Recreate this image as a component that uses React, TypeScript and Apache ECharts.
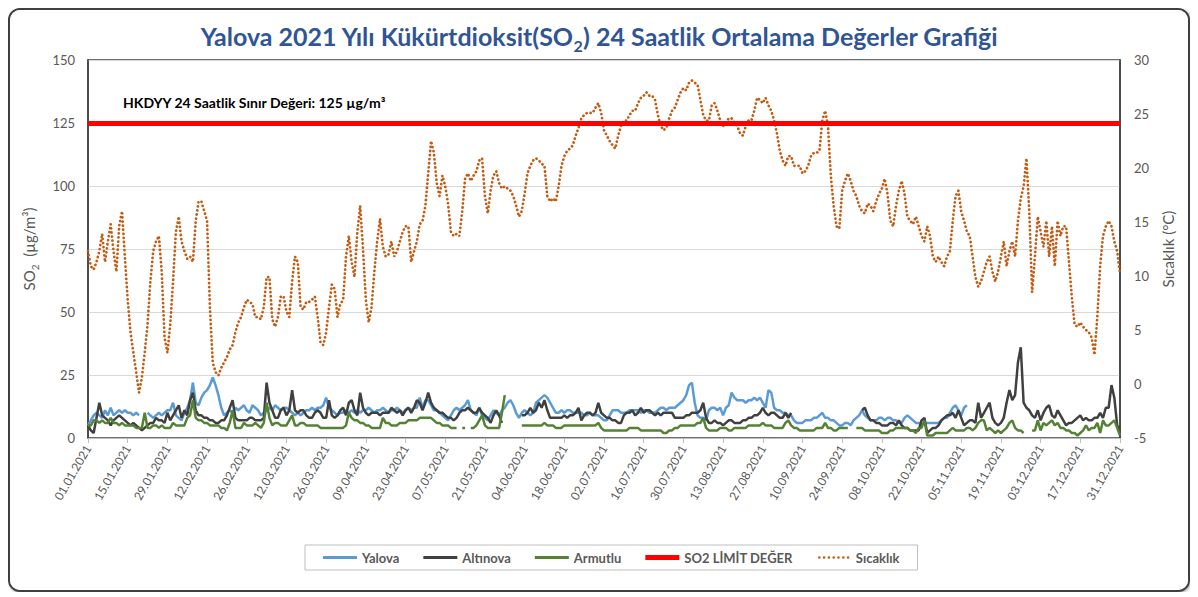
import React, { useEffect, useRef } from "react";
import * as echarts from "echarts";

// ---- categories: every day of 2021 ----
const YEAR = 2021;
const DAY_COUNT = 365;
const dates: string[] = [];
for (let i = 0; i < DAY_COUNT; i++) {
  const d = new Date(Date.UTC(YEAR, 0, 1 + i));
  const dd = String(d.getUTCDate()).padStart(2, "0");
  const mm = String(d.getUTCMonth() + 1).padStart(2, "0");
  dates.push(`${dd}.${mm}.${YEAR}`);
}

const LIMIT = 125;
const LIMIT_TEXT = "HKDYY 24 Saatlik Sınır Değeri: 125 µg/m³";
const seriesNames = ["Yalova", "Altınova", "Armutlu", "SO2 LİMİT DEĞER", "Sıcaklık"];

// SO2 daily averages (µg/m³)
const yalova: (number | null)[] = [
  5,7,9,10,9,8,11,9,12,9,10,11,10,11,10,10,9,10,9,null,
  null,10,9,8,9,10,9,10,11,11,14,9,8,7,10,12,15,22,14,13,
  16,18,19,21,24,21,17,12,9,10,11,10,12,11,12,13,11,10,13,12,
  11,9,10,11,12,11,13,12,11,12,12,11,10,9,10,9,10,11,11,12,
  11,12,12,13,16,12,11,10,9,10,10,11,10,11,10,11,10,11,11,12,
  11,10,11,11,12,11,10,11,11,12,11,10,11,12,11,12,12,16,12,15,
  15,13,11,11,10,9,8,7,9,11,12,11,12,13,15,11,10,9,12,9,
  8,7,9,11,10,9,11,12,14,15,13,10,8,10,11,10,9,10,14,15,
  16,17,16,14,12,10,10,11,10,11,11,10,10,10,10,9,9,10,9,9,
  9,8,7,7,9,11,11,11,10,10,10,11,11,11,11,10,11,11,10,10,
  10,11,12,12,11,12,12,12,13,14,15,17,21,22,14,9,8,8,7,11,
  12,12,11,12,9,12,13,18,16,15,15,15,14,15,15,16,15,16,14,12,
  19,18,12,11,11,10,10,9,9,7,6,6,6,7,7,7,8,8,9,10,
  8,8,7,7,6,5,5,6,6,5,7,8,9,11,9,8,7,7,7,8,
  8,7,8,8,7,7,6,6,8,9,8,7,6,6,5,6,6,6,6,6,
  6,7,8,8,10,12,13,11,9,12,13,null,null,null,null,null,null,null,null,null,
  null,null,null,null,null,null,null,null,null,null,null,null,null,null,null,null,null,null,null,null,
  null,null,null,null,null,null,null,null,null,null,null,null,null,null,null,null,null,null,null,null,
  null,null,null,null,null,
];

const altinova: (number | null)[] = [
  5,3,2,8,14,9,8,7,5,7,8,9,8,7,6,5,6,5,4,3,
  4,5,6,6,8,7,7,6,10,7,9,11,13,8,11,9,15,18,11,9,
  9,8,8,7,7,6,6,7,7,9,12,15,8,7,7,7,7,8,8,7,
  7,7,8,22,14,11,8,8,11,12,9,11,19,11,10,11,11,9,8,8,
  10,11,10,8,8,15,9,8,9,11,12,9,14,15,11,9,18,12,10,9,
  10,10,10,9,10,10,10,12,11,10,11,9,11,12,10,12,15,14,11,14,
  18,14,12,11,10,10,9,8,8,7,8,10,11,11,12,11,10,10,12,10,
  9,8,6,9,11,9,6,null,null,null,null,null,null,9,9,10,12,10,11,14,
  12,15,11,8,8,8,8,8,9,8,9,9,10,12,7,9,10,10,9,10,
  14,10,9,8,8,7,7,6,6,9,10,10,11,9,10,12,10,11,11,10,
  9,10,9,10,10,10,10,8,8,8,8,9,9,10,10,10,11,14,8,6,
  6,7,6,6,5,6,7,7,6,6,6,7,7,8,8,9,9,10,12,10,
  9,10,10,9,8,8,10,8,10,null,null,null,null,null,null,null,null,null,null,null,
  null,null,null,null,null,null,null,null,null,null,null,null,null,11,12,9,7,7,6,6,
  5,5,5,6,6,5,7,5,4,4,3,3,3,3,7,8,2,3,4,4,
  5,7,8,9,9,10,8,11,8,5,6,7,7,6,14,8,10,12,14,8,
  6,5,6,8,14,19,15,17,30,36,14,12,11,9,8,11,7,10,12,13,
  9,8,11,9,7,5,6,6,7,8,9,7,8,7,7,8,8,10,8,12,
  12,21,16,5,3,
];

const armutlu: (number | null)[] = [
  5,5,7,7,6,7,6,6,8,6,6,5,6,5,5,5,5,4,4,4,
  10,4,4,5,5,4,5,4,4,4,6,5,5,5,5,8,9,15,8,7,
  7,6,6,5,5,5,5,4,4,3,6,11,4,4,4,6,5,5,5,6,
  5,4,6,14,8,5,6,6,5,5,5,7,9,5,5,6,6,5,5,5,
  5,5,4,4,4,4,4,4,4,4,4,5,10,8,7,7,6,6,5,5,
  4,4,4,4,8,6,6,5,5,5,6,6,6,7,7,7,7,8,8,8,
  8,8,7,6,6,5,5,5,4,4,4,null,4,4,null,4,4,5,7,9,
  5,4,4,4,4,4,10,17,null,null,null,null,null,5,5,5,5,5,5,5,
  5,6,5,5,5,4,4,4,5,5,5,5,5,5,5,5,5,5,5,5,
  6,4,3,3,3,3,3,3,3,3,3,4,4,4,4,3,3,3,3,3,
  3,3,3,2,2,3,3,4,4,5,5,5,5,5,5,6,6,8,4,3,
  3,3,3,4,4,4,3,3,4,4,4,4,4,5,5,5,5,5,6,5,
  5,5,4,4,4,4,6,7,5,4,4,3,3,3,3,3,3,4,4,4,
  6,4,4,3,3,4,4,4,4,null,null,4,4,4,3,3,3,3,3,3,
  2,2,2,3,3,4,4,4,4,4,3,3,2,4,4,7,1,1,1,2,
  2,2,2,2,3,4,3,3,3,3,4,4,3,4,6,7,7,3,4,3,
  2,3,2,3,4,6,7,4,3,3,2,null,null,3,3,7,3,6,5,6,
  7,5,6,4,4,3,3,2,2,1,2,3,5,3,4,4,6,2,7,5,
  5,6,7,4,1,
];

// Daily temperature (°C)
const sicaklik: number[] = [
  12.3,10.9,10.6,11.3,12.3,13.9,11.3,13.2,14.8,12.3,10.4,14.6,16.0,11.8,7.8,4.8,2.9,1.1,-0.8,0.6,
  2.9,5.5,9.5,12.3,13.2,13.7,10.4,4.3,2.9,5.5,9.5,14.1,15.5,13.2,12.3,11.6,11.8,11.3,15.1,16.9,
  16.9,16.0,15.1,7.1,2.0,1.1,0.8,1.5,2.0,2.5,3.2,3.6,4.8,5.7,6.2,7.1,7.8,7.6,7.4,6.2,
  6.2,6.0,7.1,9.9,9.9,6.0,5.3,6.2,8.1,8.1,6.7,6.2,9.5,11.8,11.3,7.1,6.9,7.6,7.6,7.8,
  8.1,6.2,3.9,3.6,4.8,7.1,9.2,8.8,6.2,7.4,7.8,11.8,13.7,11.3,9.9,14.1,16.5,12.5,7.8,5.7,
  7.1,10.4,13.2,15.3,12.7,11.8,12.0,13.2,11.8,12.3,13.2,14.1,14.6,14.6,11.3,12.3,13.2,14.8,15.1,16.5,
  19.5,22.5,21.4,18.6,17.4,19.3,18.3,16.7,14.1,13.7,13.9,13.7,16.0,19.0,19.5,18.8,19.3,19.7,20.7,20.9,
  17.4,15.8,17.9,19.3,19.7,18.6,18.1,18.3,18.1,17.9,17.4,16.5,15.5,16.0,17.6,19.5,20.2,20.7,20.9,20.7,
  20.4,20.2,17.4,16.9,17.2,16.9,18.3,20.2,21.1,21.6,21.8,22.1,23.0,23.7,24.6,24.9,25.1,25.1,25.1,25.6,
  26.0,25.1,23.5,23.0,22.5,22.1,21.8,23.0,23.9,24.4,24.4,24.9,25.3,25.3,26.0,26.5,26.7,27.0,26.7,26.7,
  26.3,24.9,23.9,23.5,23.7,24.6,25.3,25.6,26.3,27.0,27.4,27.2,27.9,28.1,27.9,27.7,26.3,24.9,24.4,24.4,
  25.8,26.0,25.3,24.4,23.9,24.2,24.6,24.6,24.2,23.9,23.2,23.0,23.9,24.4,24.4,25.3,26.5,26.3,26.0,26.5,
  25.8,25.3,24.4,23.2,21.6,20.7,20.2,21.1,21.1,20.2,20.2,20.2,19.5,19.7,20.2,21.1,21.4,21.4,21.6,24.4,
  25.3,23.9,19.3,16.5,14.6,14.4,17.9,18.8,19.5,18.8,17.9,17.4,16.5,16.0,15.8,16.7,16.5,16.0,16.9,17.6,
  18.1,19.0,17.6,15.1,14.6,16.5,17.9,18.8,17.6,15.5,15.1,14.8,15.5,14.6,13.7,13.2,14.6,13.7,11.8,11.3,
  11.8,11.3,10.9,11.8,12.3,15.1,17.4,17.9,16.0,15.1,14.1,13.7,11.8,9.9,9.0,9.5,10.4,11.3,11.8,10.4,
  9.5,10.4,11.8,13.2,10.9,12.3,13.2,11.8,15.1,17.2,18.3,20.9,16.0,8.5,11.8,15.5,14.1,12.7,15.1,11.8,
  14.6,10.9,15.1,13.7,14.6,14.6,11.3,8.1,5.5,5.3,5.7,5.3,5.0,4.8,4.3,2.7,6.2,10.9,13.7,14.6,
  15.1,14.6,13.2,12.3,10.2,
];

const FONT = "Lato, 'Open Sans', sans-serif";
const GRAY = "#595959";

// legend icons (bounding box 34x12 kept by the invisible corner moves)
const LINE_ICON = "path://M0,0M34,12M0,4.6H34V7.4H0Z";
const THICK_ICON = "path://M0,0M34,12M0,3.5H34V8.5H0Z";
const DOT_ICON =
  "path://M0,0M34,12" +
  [2.5, 7.3, 12.1, 16.9, 21.7, 26.5, 31.3]
    .map((cx) => `M${cx - 1.3},6a1.3,1.3 0 1,0 2.6,0a1.3,1.3 0 1,0 -2.6,0Z`)
    .join("");
const legendIcons = [LINE_ICON, LINE_ICON, LINE_ICON, THICK_ICON, DOT_ICON];

export default function App() {
  const ref = useRef<HTMLDivElement>(null);

  useEffect(() => {
    if (!ref.current) return;
    const chart = echarts.init(ref.current, undefined, { renderer: "svg" });
    chart.setOption({
      animation: false,
      backgroundColor: "#ffffff",
      textStyle: { fontFamily: FONT },
      title: {
        text: "{a|Yalova 2021 Yılı Kükürtdioksit(SO}{s|2}{a|) 24 Saatlik Ortalama Değerler Grafiği}",
        left: "center",
        top: 4,
        textStyle: {
          rich: {
            a: { fontSize: 25, fontWeight: "bold", color: "#2F5597", fontFamily: FONT, lineHeight: 34, verticalAlign: "middle" },
            s: { fontSize: 16, fontWeight: "bold", color: "#2F5597", fontFamily: FONT, lineHeight: 34, verticalAlign: "bottom" },
          },
        },
      },
      legend: {
        data: seriesNames.map((name, i) => ({ name, icon: legendIcons[i] })),
        left: 295,
        top: 535,
        padding: [6, 18, 6, 18],
        itemGap: 24,
        itemWidth: 34,
        itemHeight: 12,
        borderColor: "#bfbfbf",
        borderWidth: 1,
        backgroundColor: "#ffffff",
        textStyle: { color: GRAY, fontSize: 13, fontWeight: "bold", fontFamily: FONT },
      },
      grid: { left: 78, top: 50, width: 1032, height: 378, show: true, borderColor: "#404040", borderWidth: 1.5 },
      xAxis: {
        type: "category",
        data: dates,
        boundaryGap: false,
        axisLine: { lineStyle: { color: "#bfbfbf" } },
        axisTick: { show: true, interval: 13, length: 5, lineStyle: { color: "#bfbfbf" } },
        axisLabel: { interval: 13, rotate: 60, fontSize: 12, color: GRAY, margin: 8, fontFamily: FONT },
        splitLine: { show: false },
      },
      yAxis: [
        {
          type: "value",
          min: 0,
          max: 150,
          interval: 25,
          name: "{a|SO}{s|2}{a|  (µg/m³)}",
          nameLocation: "middle",
          nameGap: 48,
          nameRotate: 90,
          nameTextStyle: {
            rich: {
              a: { fontSize: 15, color: GRAY, fontFamily: FONT, lineHeight: 22, verticalAlign: "middle" },
              s: { fontSize: 10, color: GRAY, fontFamily: FONT, lineHeight: 22, verticalAlign: "bottom" },
            },
          },
          axisLine: { show: true, lineStyle: { color: "#404040", width: 1.5 } },
          axisTick: { show: false },
          axisLabel: { fontSize: 13, color: GRAY, margin: 13, fontFamily: FONT },
          splitLine: { lineStyle: { color: "#d9d9d9", width: 1 } },
        },
        {
          type: "value",
          position: "right",
          min: -5,
          max: 30,
          interval: 5,
          name: "Sıcaklık (°C)",
          nameLocation: "middle",
          nameGap: 40,
          nameRotate: 90,
          nameTextStyle: { fontSize: 15, color: GRAY, fontFamily: FONT },
          axisLine: { show: true, lineStyle: { color: "#404040", width: 1.5 } },
          axisTick: { show: false },
          axisLabel: { fontSize: 13, color: GRAY, margin: 14, fontFamily: FONT },
          splitLine: { show: false },
        },
      ],
      graphic: [
        {
          type: "text",
          left: 113,
          top: 85,
          style: { text: LIMIT_TEXT, font: `bold 14px ${FONT}`, fill: "#000000" },
        },
      ],
      series: [
        {
          name: "Yalova",
          type: "line",
          data: yalova,
          symbol: "none",
          color: "#5B9BD5",
          lineStyle: { color: "#5B9BD5", width: 2.5 },
        },
        {
          name: "Altınova",
          type: "line",
          data: altinova,
          symbol: "none",
          color: "#404040",
          lineStyle: { color: "#404040", width: 2.5 },
        },
        {
          name: "Armutlu",
          type: "line",
          data: armutlu,
          symbol: "none",
          color: "#548235",
          lineStyle: { color: "#548235", width: 2.5 },
        },
        {
          name: "SO2 LİMİT DEĞER",
          type: "line",
          data: [],
          symbol: "none",
          color: "#FF0000",
          lineStyle: { color: "#FF0000", width: 5 },
          markLine: {
            silent: true,
            symbol: "none",
            label: { show: false },
            lineStyle: { color: "#FF0000", width: 5, type: "solid" },
            data: [{ yAxis: LIMIT }],
          },
        },
        {
          name: "Sıcaklık",
          type: "line",
          yAxisIndex: 1,
          data: sicaklik,
          symbol: "none",
          color: "#C55A11",
          lineStyle: { color: "#C55A11", width: 2.7, type: [0.1, 4], cap: "round" },
        },
      ],
    });
    return () => chart.dispose();
  }, []);

  return (
    <div
      style={{
        width: 1182,
        height: 584,
        border: "2px solid #3f3f3f",
        borderRadius: 12,
        boxSizing: "border-box",
        overflow: "hidden",
        boxShadow: "1px 1px 3px rgba(0,0,0,0.35)",
        background: "#fff",
      }}
    >
      <div ref={ref} style={{ width: 1178, height: 580 }} />
    </div>
  );
}
